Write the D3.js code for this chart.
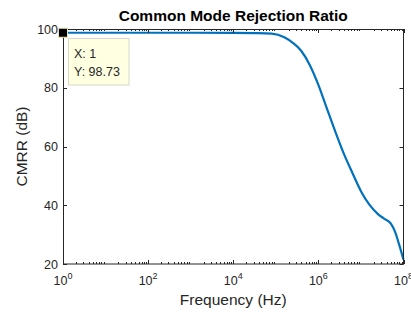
<!DOCTYPE html>
<html><head><meta charset="utf-8">
<script src="https://cdn.jsdelivr.net/npm/d3@7/dist/d3.min.js"></script>
<style>
html,body{margin:0;padding:0;background:#fff;overflow:hidden;}
text{font-family:"Liberation Sans",Arial,Helvetica,sans-serif;}
</style></head>
<body>
<svg id="c" width="411" height="316"></svg>
<script>
// ---- data ----
const frequency = [1e0, 1e1, 1e2, 1e3, 1e4, 3.16e4, 7.94e4, 1.58e5, 2.51e5, 3.98e5, 6.31e5, 1e6, 1.58e6, 2.51e6, 3.98e6, 6.31e6, 1e7, 1.58e7, 2.51e7, 3.55e7, 5.01e7, 6.31e7, 7.94e7, 1e8];
const cmrr      = [98.73, 98.73, 98.73, 98.73, 98.7, 98.6, 98.4, 97.2, 95.3, 92.5, 87.7, 81.0, 73.0, 65.0, 57.5, 51.0, 44.8, 40.2, 37.0, 35.4, 33.8, 31.0, 26.5, 21.5];
const xTickExp  = [0, 2, 4, 6, 8];
const yTicks    = [20, 40, 60, 80, 100];
const tipX = 1, tipY = 98.73;
const titleText = "Common Mode Rejection Ratio";
const xLabel = "Frequency (Hz)";
const yLabel = "CMRR (dB)";

const m = {left: 63, right: 403.5, top: 29, bottom: 264};
const axisColor = "#262626";
const svg = d3.select("#c");

const x = d3.scaleLog().domain([1, 1e8]).range([m.left, m.right]);
const y = d3.scaleLinear().domain([20, 100]).range([m.bottom, m.top]);

// line
const pts = frequency.map((f, i) => [f, cmrr[i]]);
const line = d3.line().x(d => x(d[0])).y(d => y(d[1])).curve(d3.curveMonotoneX);
svg.append("path").datum(pts).attr("d", line)
  .attr("fill", "none").attr("stroke", "#0072BD").attr("stroke-width", 2.2)
  .attr("stroke-linejoin", "round");

// ticks (inward, box)
const g = svg.append("g").attr("stroke", axisColor).attr("stroke-width", 1);
const minor = [];
for (let e = 0; e < 8; e++) for (let k = 2; k <= 9; k++) minor.push(k * Math.pow(10, e));
minor.forEach(v => {
  const px = Math.round(x(v)) + 0.5;
  g.append("line").attr("x1", px).attr("x2", px).attr("y1", m.bottom).attr("y2", m.bottom - 2);
  g.append("line").attr("x1", px).attr("x2", px).attr("y1", m.top).attr("y2", m.top + 2);
});
xTickExp.forEach(e => {
  const px = Math.round(x(Math.pow(10, e))) + 0.5;
  g.append("line").attr("x1", px).attr("x2", px).attr("y1", m.bottom).attr("y2", m.bottom - 4);
  g.append("line").attr("x1", px).attr("x2", px).attr("y1", m.top).attr("y2", m.top + 4);
});
yTicks.forEach(v => {
  const py = Math.round(y(v)) + 0.5;
  g.append("line").attr("x1", m.left).attr("x2", m.left + 4).attr("y1", py).attr("y2", py);
  g.append("line").attr("x1", m.right).attr("x2", m.right - 4).attr("y1", py).attr("y2", py);
});
svg.append("rect").attr("x", m.left + 0.5).attr("y", m.top + 0.5)
  .attr("width", m.right - m.left - 0.5).attr("height", m.bottom - m.top - 0.5)
  .attr("fill", "none").attr("stroke", axisColor).attr("stroke-width", 1);

// y tick labels
yTicks.forEach(v => {
  svg.append("text").attr("x", m.left - 5).attr("y", y(v) + 4.5)
    .attr("text-anchor", "end").attr("font-size", 12.5).attr("fill", axisColor).text(v);
});
// x tick labels 10^e
xTickExp.forEach(e => {
  const t = svg.append("text").attr("x", x(Math.pow(10, e))).attr("y", 285)
    .attr("text-anchor", "middle").attr("font-size", 12.5).attr("fill", axisColor);
  t.append("tspan").text("10");
  t.append("tspan").attr("dy", -6).attr("font-size", 9).text(e);
});

// title & labels
svg.append("text").attr("x", (m.left + m.right) / 2).attr("y", 20.5)
  .attr("text-anchor", "middle").attr("font-size", 15.5).attr("font-weight", "bold")
  .attr("fill", "#000").text(titleText);
svg.append("text").attr("x", (m.left + m.right) / 2).attr("y", 305)
  .attr("text-anchor", "middle").attr("font-size", 15.5).attr("fill", axisColor).text(xLabel);
svg.append("text").attr("transform", `translate(27,${(m.top + m.bottom) / 2}) rotate(-90)`)
  .attr("text-anchor", "middle").attr("font-size", 15.5).attr("fill", axisColor).text(yLabel);

// datatip
const tx = x(tipX), ty = y(tipY);
svg.append("rect").attr("x", tx - 4.5).attr("y", ty - 4.5).attr("width", 9).attr("height", 9)
  .attr("fill", "#000").attr("stroke", "#e8e4b0").attr("stroke-width", 1);
svg.append("rect").attr("x", 68.5).attr("y", 38.5).attr("width", 60.5).attr("height", 46.5)
  .attr("fill", "#ffffe1").attr("stroke", "#d8d8c8").attr("stroke-width", 1);
svg.append("text").attr("x", 74).attr("y", 57.5).attr("font-size", 12.5).attr("fill", "#262626").text("X: " + tipX);
svg.append("text").attr("x", 74).attr("y", 76).attr("font-size", 12.5).attr("fill", "#262626").text("Y: " + tipY);
</script>
</body></html>
